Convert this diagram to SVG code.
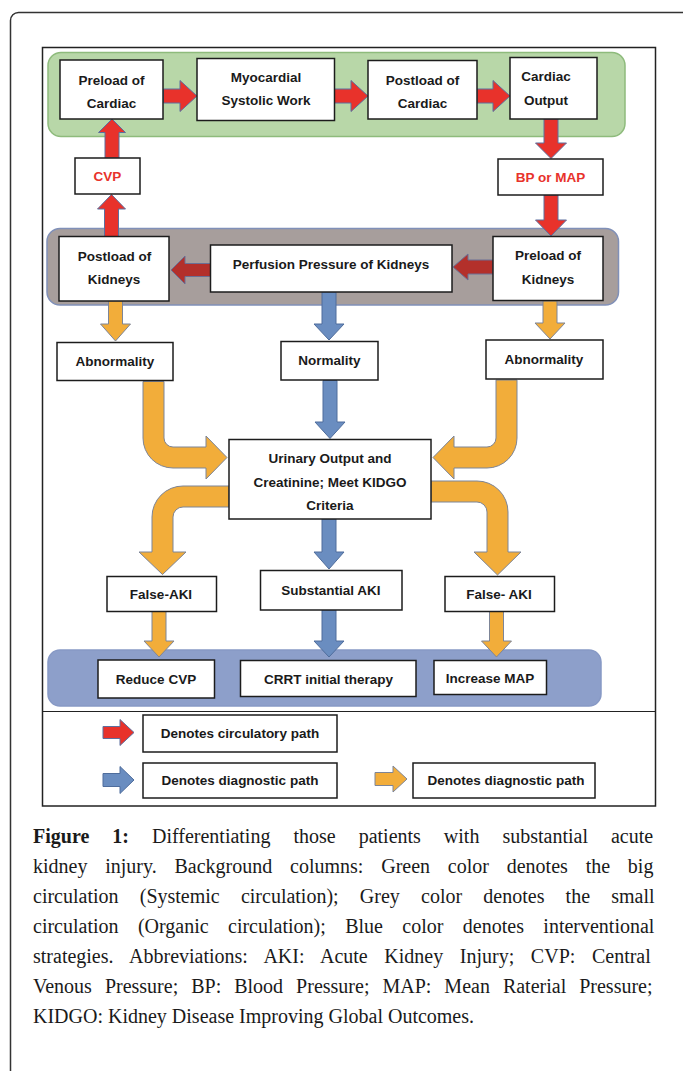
<svg xmlns="http://www.w3.org/2000/svg" width="683" height="1071" viewBox="0 0 683 1071">
<style>
.box{fill:#fff;stroke:#1c1c1c;stroke-width:1.5}
.lbl{font-family:"Liberation Sans",Arial,sans-serif;font-weight:bold;font-size:13.5px;fill:#1a1a1a;text-anchor:middle}
.red{fill:#e8322b}
.ar-red{fill:#e8322b;stroke:#5d6f9e;stroke-width:1}
.ar-dred{fill:#b3302b;stroke:#6a6f95;stroke-width:1}
.ar-org{fill:#f2ad3a;stroke:#7d8597;stroke-width:1}
.ar-blu{fill:#6a8dc0;stroke:#4f6d9c;stroke-width:1}
.cap{font-family:"Liberation Serif","Times New Roman",serif;font-size:20px;fill:#1a1a1a}
</style>
<rect width="683" height="1071" fill="#fff"/>
<path d="M10.5,1071 V20.5 A8 8 0 0 1 18.5,12.5 H683" fill="none" stroke="#333" stroke-width="1.5"/>
<rect x="42.5" y="47.5" width="613" height="758.5" fill="none" stroke="#222" stroke-width="1.5"/>
<line x1="42.5" y1="711.5" x2="655.5" y2="711.5" stroke="#222" stroke-width="1.2"/>

<g id="bands">
<rect x="48" y="52.5" width="577" height="84" rx="13" fill="#b8d7a8" stroke="#8ebb7c" stroke-width="1.5"/>
<rect x="47" y="228.5" width="571.5" height="76.5" rx="13" fill="#a79e9c" stroke="#8090b8" stroke-width="1.5"/>
<rect x="48" y="650" width="553" height="56" rx="12" fill="#8d9fca" stroke="#8799c5" stroke-width="1.5"/>
</g>

<g id="connectors">
<polygon class="ar-red" points="163.5,89 180,89 180,80.5 197,96 180,111.5 180,103 163.5,103"/>
<polygon class="ar-red" points="334.5,89 351,89 351,80.5 368,96 351,111.5 351,103 334.5,103"/>
<polygon class="ar-red" points="477,89 493,89 493,80.5 510,96 493,111.5 493,103 477,103"/>
<polygon class="ar-red" points="544,119 558,119 558,143 566.5,143 551,158.5 535.5,143 544,143"/>
<polygon class="ar-red" points="544,195 558,195 558,220 566.5,220 551,236 535.5,220 544,220"/>
<polygon class="ar-red" points="105,158 119,158 119,132.5 125.5,132.5 112,119 98.5,132.5 105,132.5"/>
<polygon class="ar-red" points="104.5,236.5 118.5,236.5 118.5,209 125.5,209 111.5,194.5 97.5,209 104.5,209"/>
<polygon class="ar-dred" points="210.5,263.5 185,263.5 185,256 171,270 185,284 185,276.5 210.5,276.5"/>
<polygon class="ar-dred" points="493,260 468,260 468,254 453,267 468,280 468,274 493,274"/>
<polygon class="ar-org" points="108.5,301 122.5,301 122.5,324 130.5,324 115.5,341 100.5,324 108.5,324"/>
<polygon class="ar-blu" points="322,292 336,292 336,324 344,324 329,340 314,324 322,324"/>
<polygon class="ar-org" points="543,301 557,301 557,323 565,323 550,339 535,323 543,323"/>
<polygon class="ar-blu" points="323,380.5 337,380.5 337,422 345,422 330,438.5 315,422 323,422"/>
<path class="ar-org" d="M143,381.5 V438 A30 30 0 0 0 173,468 H206 V479 L227,457.5 L206,436 V447 H173 A9 9 0 0 1 164,438 V381.5 Z"/>
<path class="ar-org" d="M517,380 V438 A30 30 0 0 1 487,468 H454 V479 L433,457.5 L454,436 V447 H487 A9 9 0 0 0 496,438 V380 Z"/>
<path class="ar-org" d="M229,486 H183 A31 31 0 0 0 152,517 V552 H139 L162.5,574.5 L186,552 H173 V517 A10 10 0 0 1 183,507 H229 Z"/>
<path class="ar-org" d="M431,481 H477 A31 31 0 0 1 508,512 V552 H521 L497.5,575 L474,552 H487 V512 A10 10 0 0 0 477,502 H431 Z"/>
<polygon class="ar-blu" points="322,519 336,519 336,552 344,552 329,569 314,552 322,552"/>
<polygon class="ar-org" points="152,611.5 166,611.5 166,641 174,641 159,657 144,641 152,641"/>
<polygon class="ar-blu" points="322,610 336,610 336,641 344,641 329,657 314,641 322,641"/>
<polygon class="ar-org" points="489.5,611.5 503.5,611.5 503.5,641 511.5,641 496.5,657 481.5,641 489.5,641"/>
</g>

<g id="preload-cardiac"><rect class="box" x="60" y="60" width="103" height="59"/><text class="lbl" x="111.5" y="84.5">Preload of</text><text class="lbl" x="111.5" y="107.5">Cardiac</text></g>
<g id="myocardial"><rect class="box" x="197" y="58.5" width="137.5" height="62"/><text class="lbl" x="266" y="82">Myocardial</text><text class="lbl" x="266" y="105">Systolic Work</text></g>
<g id="postload-cardiac"><rect class="box" x="368" y="60.5" width="109" height="58.5"/><text class="lbl" x="422.5" y="84.5">Postload of</text><text class="lbl" x="422.5" y="108">Cardiac</text></g>
<g id="cardiac-output"><rect class="box" x="510" y="57.5" width="87" height="61.5"/><text class="lbl" x="546" y="81">Cardiac</text><text class="lbl" x="546" y="105">Output</text></g>
<g id="cvp"><rect class="box" x="75" y="158" width="65" height="36"/><text class="lbl red" x="107.5" y="181">CVP</text></g>
<g id="bp-map"><rect class="box" x="498" y="159" width="105" height="36"/><text class="lbl red" x="550.5" y="182">BP or MAP</text></g>
<g id="postload-kidneys"><rect class="box" x="59" y="236.5" width="110" height="64.5"/><text class="lbl" x="114.5" y="260.5">Postload of</text><text class="lbl" x="114" y="283.5">Kidneys</text></g>
<g id="perfusion"><rect class="box" x="210.5" y="245" width="241.5" height="47"/><text class="lbl" x="331" y="268.5">Perfusion Pressure of Kidneys</text></g>
<g id="preload-kidneys"><rect class="box" x="493" y="236.5" width="110" height="64"/><text class="lbl" x="548" y="259.5">Preload of</text><text class="lbl" x="548" y="283.5">Kidneys</text></g>
<g id="abnormality-left"><rect class="box" x="57" y="342.5" width="116" height="38"/><text class="lbl" x="115" y="366">Abnormality</text></g>
<g id="normality"><rect class="box" x="281" y="341.5" width="97" height="38.5"/><text class="lbl" x="329.5" y="365">Normality</text></g>
<g id="abnormality-right"><rect class="box" x="486" y="340" width="117" height="39"/><text class="lbl" x="544" y="364">Abnormality</text></g>
<g id="urinary"><rect class="box" x="229" y="439.5" width="202" height="79.5"/><text class="lbl" x="330" y="463">Urinary Output and</text><text class="lbl" x="330" y="487">Creatinine; Meet KIDGO</text><text class="lbl" x="330" y="509.5">Criteria</text></g>
<g id="false-aki-left"><rect class="box" x="107" y="576.5" width="109.5" height="35"/><text class="lbl" x="161" y="599">False-AKI</text></g>
<g id="substantial-aki"><rect class="box" x="260.5" y="570.5" width="141.5" height="39.5"/><text class="lbl" x="331" y="594.5">Substantial AKI</text></g>
<g id="false-aki-right"><rect class="box" x="445" y="576.5" width="109.5" height="35"/><text class="lbl" x="499" y="599">False- AKI</text></g>
<g id="reduce-cvp"><rect class="box" x="98" y="660" width="116.5" height="38"/><text class="lbl" x="156" y="683.5">Reduce CVP</text></g>
<g id="crrt"><rect class="box" x="240.5" y="660.5" width="175.5" height="36"/><text class="lbl" x="328.5" y="683.5">CRRT initial therapy</text></g>
<g id="increase-map"><rect class="box" x="434" y="660.5" width="112.5" height="34"/><text class="lbl" x="490" y="683">Increase MAP</text></g>

<g id="legend">
<polygon class="ar-red" points="103,726.5 120,726.5 120,719.5 134,732.5 120,745.5 120,738.5 103,738.5"/>
<rect class="box" x="143" y="715" width="194" height="37"/><text class="lbl" x="240" y="738">Denotes circulatory path</text>
<polygon class="ar-blu" points="103,773.5 120,773.5 120,766.5 134,780 120,793.5 120,786.5 103,786.5"/>
<rect class="box" x="143" y="763" width="194" height="35"/><text class="lbl" x="240" y="785">Denotes diagnostic path</text>
<polygon class="ar-org" points="375,772.5 393,772.5 393,766 407,779 393,792 393,785.5 375,785.5"/>
<rect class="box" x="413" y="763" width="182" height="35"/><text class="lbl" x="506" y="785">Denotes diagnostic path</text>
</g>

<g id="caption">
<text class="cap" x="33" y="843" word-spacing="18"><tspan font-weight="bold">Figure 1:</tspan> Differentiating those patients with substantial acute</text>
<text class="cap" x="33" y="873" word-spacing="12.8">kidney injury. Background columns: Green color denotes the big</text>
<text class="cap" x="33" y="903" word-spacing="16.2">circulation (Systemic circulation); Grey color denotes the small</text>
<text class="cap" x="33" y="933" word-spacing="14.4">circulation (Organic circulation); Blue color denotes interventional</text>
<text class="cap" x="33" y="963" word-spacing="11.6">strategies. Abbreviations: AKI: Acute Kidney Injury; CVP: Central</text>
<text class="cap" x="33" y="993" word-spacing="8">Venous Pressure; BP: Blood Pressure; MAP: Mean Raterial Pressure;</text>
<text class="cap" x="33" y="1023">KIDGO: Kidney Disease Improving Global Outcomes.</text>
</g>
</svg>
